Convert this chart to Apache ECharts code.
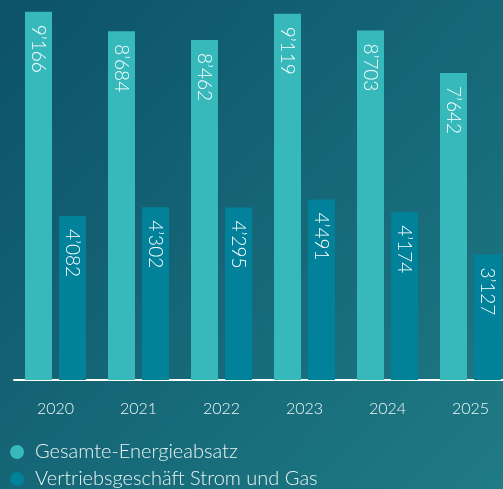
<!DOCTYPE html>
<html>
<head>
<meta charset="utf-8">
<script src="https://cdn.jsdelivr.net/npm/echarts@6/dist/echarts.min.js"></script>
<style>
  html, body { margin: 0; padding: 0; }
  #chart { width: 503px; height: 489px; }
</style>
</head>
<body>
<div id="chart"></div>
<script>
// Daten aus der Grafik
const years = ["2020", "2021", "2022", "2023", "2024", "2025"];
const totalSales = [9166, 8684, 8462, 9119, 8703, 7642];
const retailSales = [4082, 4302, 4295, 4491, 4174, 3127];
const seriesNames = ["Gesamte-Energieabsatz", "Vertriebsgeschäft Strom und Gas"];

const fmt = v => {
  const s = String(v);
  return s.length > 3 ? s.slice(0, -3) + "\u2019" + s.slice(-3) : s;
};

const chart = echarts.init(document.getElementById("chart"));

const barLabel = {
  show: true,
  position: "insideTop",
  rotate: -90,
  align: "left",
  verticalAlign: "middle",
  distance: 13,
  color: "#ffffff",
  fontFamily: "Lato",
  fontWeight: 300,
  fontSize: 19,
  formatter: p => fmt(p.value)
};

chart.setOption({
  backgroundColor: new echarts.graphic.LinearGradient(0, 0, 1, 1, [
    { offset: 0, color: "#0c5268" },
    { offset: 1, color: "#1f7b85" }
  ]),
  color: ["#37b9bc", "#02829a"],
  textStyle: { fontFamily: "Lato" },
  legend: {
    orient: "vertical",
    left: 10,
    bottom: 0,
    padding: [0, 0, 0, 0],
    icon: "circle",
    itemWidth: 14,
    itemHeight: 14,
    itemGap: 7,
    textStyle: {
      color: "#e8f3f3",
      fontSize: 20,
      fontWeight: 300,
      fontFamily: "Lato",
      padding: [0, 0, 0, 6]
    },
    data: seriesNames
  },
  grid: { left: 14, right: -9, top: 0, bottom: 109, outerBoundsMode: "none" },
  xAxis: {
    type: "category",
    data: years,
    axisLine: { lineStyle: { color: "#ffffff", width: 2 } },
    axisTick: { show: false },
    axisLabel: { color: "#eef6f6", fontSize: 16, fontWeight: 300, margin: 21 }
  },
  yAxis: {
    type: "value",
    min: 0,
    max: 9460,
    show: false,
    splitLine: { show: false }
  },
  series: [
    {
      name: seriesNames[0],
      type: "bar",
      data: totalSales,
      barWidth: 27,
      barGap: "26%",
      label: barLabel
    },
    {
      name: seriesNames[1],
      type: "bar",
      data: retailSales,
      barWidth: 27,
      label: barLabel
    }
  ]
});
</script>
</body>
</html>
